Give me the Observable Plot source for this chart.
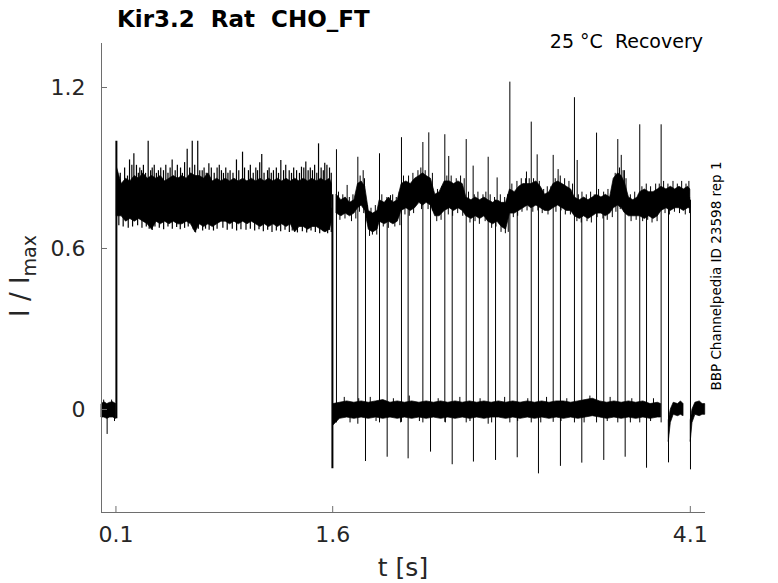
<!DOCTYPE html>
<html>
<head>
<meta charset="utf-8">
<script src="https://cdn.jsdelivr.net/npm/d3@7"></script>
<script src="https://cdn.jsdelivr.net/npm/@observablehq/plot@0.6"></script>
<style>
  html, body { margin: 0; padding: 0; background: #fff; }
</style>
</head>
<body>
<div id="chart"></div>
<script>
// ---- tick values / labels ----
const xTicks = [0.1, 1.6, 4.075];
const xTickLabels = ["0.1", "1.6", "4.1"];
const yTicks = [0, 0.6, 1.2];
const yTickLabels = ["0", "0.6", "1.2"];

// ---- noise bands: [t, low, high] ----
const preBand = [[0.002,-0.03,0.02],[0.02,-0.03,0.027],[0.04,-0.035,0.02],[0.06,-0.03,0.025],[0.08,-0.03,0.027],[0.102,-0.035,0.02]];
const preDips = [[0.039,0,-0.093],[0.09,0,-0.045],[0.015,0,0.035],[0.07,0,0.035]];

const firstBand = [
 [0.108,0.72,0.90],[0.14,0.72,0.84],[0.17,0.70,0.86],[0.20,0.71,0.85],[0.23,0.70,0.87],[0.26,0.71,0.86],
 [0.29,0.70,0.88],[0.32,0.69,0.86],[0.35,0.67,0.87],[0.38,0.70,0.86],[0.41,0.69,0.87],[0.44,0.70,0.85],
 [0.47,0.69,0.86],[0.50,0.70,0.87],[0.53,0.69,0.86],[0.56,0.69,0.87],[0.59,0.70,0.86],[0.62,0.69,0.88],
 [0.65,0.66,0.87],[0.68,0.69,0.87],[0.71,0.68,0.86],[0.74,0.69,0.88],[0.77,0.68,0.85],[0.80,0.69,0.86],
 [0.83,0.70,0.85],[0.86,0.70,0.86],[0.89,0.69,0.85],[0.92,0.70,0.86],[0.95,0.69,0.85],[0.98,0.70,0.86],
 [1.01,0.69,0.85],[1.04,0.70,0.86],[1.07,0.69,0.85],[1.10,0.68,0.86],[1.13,0.69,0.85],[1.16,0.68,0.86],
 [1.19,0.69,0.85],[1.22,0.68,0.86],[1.25,0.69,0.85],[1.28,0.68,0.86],[1.31,0.69,0.85],[1.34,0.66,0.86],
 [1.37,0.68,0.85],[1.40,0.68,0.86],[1.43,0.67,0.85],[1.46,0.68,0.86],[1.49,0.68,0.85],[1.52,0.67,0.86],
 [1.55,0.66,0.85],[1.58,0.67,0.86],[1.595,0.70,0.84]
];
const firstSpikes = [
 [0.194,0.93],[0.224,0.953],[0.242,0.91],[0.277,0.89],[0.323,1.0],[0.351,0.90],[0.394,0.89],[0.429,0.89],
 [0.489,0.93],[0.547,0.90],[0.593,0.97],[0.628,1.0],[0.666,1.0],[0.697,0.89],[0.743,0.916],[0.80,0.90],
 [0.844,0.88],[0.934,0.93],[0.976,0.959],[1.017,0.89],[1.068,0.90],[1.109,0.95],[1.149,0.89],[1.241,0.928],
 [1.299,0.89],[1.384,0.903],[1.414,0.922],[1.46,0.89],[1.502,0.99],[1.545,0.918],[1.578,0.90],
 [0.13,0.88],[0.16,0.90],[0.18,0.87],[0.21,0.91],[0.255,0.88],[0.265,0.90],[0.29,0.91],[0.305,0.88],
 [0.34,0.89],[0.365,0.91],[0.38,0.88],[0.41,0.90],[0.445,0.91],[0.46,0.88],[0.475,0.90],[0.51,0.89],
 [0.525,0.91],[0.56,0.88],[0.575,0.92],[0.61,0.90],[0.645,0.91],[0.68,0.89],[0.71,0.90],[0.725,0.88],
 [0.76,0.90],[0.78,0.88],[0.815,0.91],[0.83,0.89],[0.86,0.90],[0.875,0.88],[0.89,0.89],[0.91,0.88],
 [0.95,0.89],[0.99,0.90],[1.03,0.91],[1.05,0.88],[1.08,0.89],[1.095,0.92],[1.125,0.88],[1.16,0.90],
 [1.175,0.88],[1.19,0.89],[1.21,0.90],[1.225,0.88],[1.26,0.89],[1.275,0.91],[1.315,0.88],[1.33,0.90],
 [1.35,0.89],[1.37,0.88],[1.40,0.90],[1.43,0.89],[1.445,0.90],[1.475,0.91],[1.49,0.88],[1.52,0.90],
 [1.535,0.89],[1.56,0.91],[1.59,0.88]
];
const firstDips = [
 [0.351,0.667],[0.651,0.658],[0.72,0.672],[1.356,0.658],[1.576,0.667],
 [0.12,0.685],[0.15,0.68],[0.185,0.675],[0.215,0.68],[0.25,0.685],[0.28,0.675],[0.31,0.68],[0.33,0.672],
 [0.37,0.68],[0.40,0.675],[0.43,0.67],[0.46,0.68],[0.49,0.672],[0.52,0.678],[0.545,0.67],[0.575,0.675],
 [0.60,0.68],[0.635,0.67],[0.67,0.672],[0.70,0.665],[0.745,0.668],[0.775,0.665],[0.80,0.672],[0.84,0.675],
 [0.87,0.668],[0.905,0.672],[0.935,0.665],[0.965,0.67],[1.0,0.668],[1.03,0.672],[1.06,0.665],[1.09,0.67],
 [1.12,0.662],[1.15,0.668],[1.18,0.66],[1.21,0.665],[1.24,0.662],[1.27,0.668],[1.30,0.66],[1.32,0.665],
 [1.39,0.662],[1.42,0.658],[1.45,0.665],[1.48,0.66],[1.51,0.655],[1.535,0.662],[1.565,0.655],[1.59,0.66]
];

const upperBand = [
 [1.628,0.73,0.80],[1.66,0.72,0.78],[1.69,0.73,0.79],[1.72,0.72,0.77],[1.75,0.73,0.78],[1.775,0.75,0.84],
 [1.80,0.76,0.85],[1.825,0.74,0.83],[1.85,0.67,0.74],[1.88,0.66,0.73],[1.91,0.67,0.74],[1.925,0.70,0.78],
 [1.96,0.69,0.77],[1.99,0.70,0.79],[2.02,0.69,0.77],[2.05,0.70,0.78],[2.077,0.74,0.84],[2.11,0.75,0.85],
 [2.14,0.74,0.84],[2.17,0.75,0.86],[2.20,0.77,0.87],[2.225,0.76,0.88],[2.25,0.77,0.87],[2.28,0.76,0.86],
 [2.31,0.72,0.80],[2.34,0.72,0.81],[2.375,0.74,0.85],[2.41,0.75,0.85],[2.44,0.74,0.84],[2.47,0.75,0.85],
 [2.50,0.74,0.84],[2.525,0.72,0.79],[2.56,0.71,0.78],[2.59,0.72,0.79],[2.62,0.71,0.78],[2.65,0.72,0.79],
 [2.677,0.70,0.78],[2.71,0.69,0.77],[2.74,0.70,0.78],[2.77,0.68,0.77],[2.80,0.67,0.77],[2.827,0.73,0.82],
 [2.86,0.73,0.81],[2.89,0.74,0.83],[2.92,0.75,0.84],[2.95,0.76,0.84],[2.975,0.75,0.84],[3.01,0.76,0.85],
 [3.04,0.75,0.83],[3.07,0.74,0.80],[3.10,0.74,0.81],[3.127,0.75,0.84],[3.16,0.76,0.85],[3.19,0.75,0.84],
 [3.22,0.74,0.83],[3.25,0.74,0.82],[3.275,0.72,0.79],[3.31,0.71,0.78],[3.34,0.72,0.79],[3.37,0.71,0.78],
 [3.40,0.72,0.79],[3.427,0.73,0.80],[3.46,0.73,0.79],[3.49,0.72,0.80],[3.52,0.73,0.79],[3.545,0.75,0.86],
 [3.575,0.76,0.88],[3.60,0.75,0.87],[3.625,0.73,0.84],[3.65,0.72,0.79],[3.68,0.72,0.78],[3.71,0.72,0.79],
 [3.727,0.72,0.81],[3.76,0.71,0.82],[3.79,0.72,0.81],[3.82,0.71,0.81],[3.85,0.72,0.82],[3.875,0.74,0.83],
 [3.91,0.75,0.82],[3.94,0.74,0.83],[3.97,0.75,0.82],[4.00,0.75,0.83],[4.03,0.74,0.82],[4.06,0.75,0.83],
 [4.075,0.75,0.82]
];
const upperSpikes = [
 [1.70,0.835],[1.811,0.89],[2.0,0.797],[2.265,1.031],[2.403,0.943],[2.572,0.907],[2.738,0.863],
 [2.941,0.885],[3.015,0.949],[3.16,0.894],[3.292,0.928],[3.597,0.947],[3.619,0.89]
];
// short excursions on the upper trace: [t, from, to]
const upperTexture = [
 [1.64,0.75,0.81],[1.67,0.75,0.80],[1.715,0.75,0.79],[1.74,0.75,0.80],[1.65,0.75,0.705],[1.685,0.75,0.71],[1.73,0.75,0.70],[1.76,0.75,0.71],
 [1.79,0.8,0.87],[1.82,0.8,0.86],[1.785,0.8,0.735],[1.815,0.8,0.73],
 [1.84,0.7,0.76],[1.865,0.7,0.75],[1.895,0.7,0.76],[1.855,0.7,0.645],[1.875,0.7,0.65],[1.905,0.7,0.65],
 [1.94,0.73,0.80],[1.975,0.73,0.79],[2.015,0.73,0.80],[2.04,0.73,0.79],[2.06,0.73,0.81],[1.95,0.73,0.68],[1.985,0.73,0.675],[2.03,0.73,0.68],[2.065,0.73,0.685],
 [2.09,0.8,0.87],[2.125,0.8,0.87],[2.155,0.8,0.88],[2.19,0.8,0.89],[2.21,0.8,0.90],[2.24,0.8,0.89],[2.29,0.8,0.88],
 [2.10,0.8,0.725],[2.13,0.8,0.72],[2.16,0.8,0.73],[2.215,0.8,0.745],[2.26,0.8,0.745],[2.29,0.8,0.74],
 [2.325,0.76,0.82],[2.355,0.76,0.83],[2.32,0.76,0.70],[2.35,0.76,0.705],
 [2.39,0.8,0.87],[2.42,0.8,0.87],[2.455,0.8,0.86],[2.485,0.8,0.87],[2.51,0.8,0.86],[2.40,0.8,0.725],[2.43,0.8,0.72],[2.465,0.8,0.73],[2.50,0.8,0.72],
 [2.54,0.75,0.81],[2.58,0.75,0.80],[2.605,0.75,0.81],[2.64,0.75,0.80],[2.66,0.75,0.81],[2.55,0.75,0.695],[2.585,0.75,0.70],[2.615,0.75,0.69],[2.655,0.75,0.70],
 [2.69,0.73,0.80],[2.72,0.73,0.79],[2.76,0.73,0.80],[2.79,0.73,0.79],[2.81,0.73,0.80],[2.70,0.73,0.675],[2.73,0.73,0.68],[2.765,0.73,0.66],[2.795,0.73,0.655],[2.815,0.73,0.66],
 [2.84,0.79,0.84],[2.875,0.79,0.85],[2.905,0.79,0.86],[2.935,0.79,0.86],[2.96,0.79,0.86],[2.99,0.79,0.86],[3.03,0.79,0.85],[3.06,0.78,0.82],[3.085,0.78,0.83],[3.11,0.78,0.83],
 [2.85,0.79,0.715],[2.88,0.79,0.72],[2.91,0.79,0.735],[2.945,0.79,0.74],[2.985,0.79,0.735],[3.02,0.79,0.74],[3.05,0.78,0.73],[3.09,0.78,0.725],
 [3.14,0.8,0.86],[3.175,0.8,0.87],[3.205,0.8,0.86],[3.235,0.8,0.85],[3.26,0.8,0.84],[3.145,0.8,0.735],[3.18,0.8,0.74],[3.21,0.8,0.725],[3.245,0.8,0.725],
 [3.30,0.75,0.80],[3.325,0.75,0.81],[3.355,0.75,0.80],[3.385,0.75,0.81],[3.41,0.75,0.80],[3.44,0.76,0.82],[3.475,0.76,0.81],[3.505,0.76,0.82],[3.53,0.76,0.81],
 [3.29,0.75,0.70],[3.32,0.75,0.695],[3.36,0.75,0.70],[3.39,0.75,0.695],[3.43,0.76,0.715],[3.47,0.76,0.71],[3.50,0.76,0.705],[3.535,0.76,0.715],
 [3.555,0.8,0.88],[3.585,0.8,0.90],[3.61,0.8,0.89],[3.63,0.8,0.86],[3.56,0.8,0.735],[3.59,0.8,0.745],[3.615,0.8,0.735],
 [3.66,0.75,0.80],[3.69,0.75,0.81],[3.715,0.75,0.80],[3.665,0.75,0.70],[3.70,0.75,0.705],
 [3.74,0.77,0.83],[3.77,0.77,0.84],[3.80,0.77,0.83],[3.835,0.77,0.84],[3.86,0.77,0.84],[3.745,0.77,0.70],[3.78,0.77,0.705],[3.81,0.77,0.695],[3.845,0.77,0.70],
 [3.89,0.79,0.85],[3.92,0.79,0.84],[3.955,0.79,0.85],[3.985,0.79,0.84],[4.015,0.79,0.85],[4.045,0.79,0.84],[4.065,0.79,0.85],
 [3.90,0.79,0.73],[3.93,0.79,0.725],[3.965,0.79,0.735],[4.00,0.79,0.73],[4.04,0.79,0.725],[4.07,0.79,0.73]
];

const lowerBand = [
 [1.605,-0.06,0.02],[1.65,-0.035,0.025],[1.70,-0.03,0.03],[1.75,-0.035,0.025],[1.80,-0.03,0.03],
 [1.85,-0.035,0.025],[1.90,-0.03,0.03],[1.95,-0.035,0.035],[2.00,-0.03,0.025],[2.05,-0.035,0.03],
 [2.10,-0.03,0.025],[2.15,-0.035,0.03],[2.20,-0.03,0.025],[2.25,-0.035,0.03],[2.30,-0.03,0.025],
 [2.35,-0.035,0.03],[2.40,-0.03,0.025],[2.45,-0.035,0.03],[2.50,-0.03,0.025],[2.55,-0.035,0.03],
 [2.60,-0.03,0.025],[2.65,-0.035,0.03],[2.70,-0.03,0.025],[2.75,-0.03,0.03],[2.80,-0.035,0.025],
 [2.85,-0.03,0.03],[2.90,-0.035,0.025],[2.95,-0.03,0.03],[3.00,-0.035,0.025],[3.05,-0.03,0.03],
 [3.10,-0.035,0.025],[3.15,-0.03,0.03],[3.20,-0.035,0.03],[3.25,-0.03,0.025],[3.30,-0.035,0.03],
 [3.35,-0.03,0.035],[3.40,-0.025,0.04],[3.45,-0.03,0.03],[3.50,-0.035,0.025],[3.55,-0.03,0.03],
 [3.60,-0.035,0.025],[3.65,-0.03,0.03],[3.70,-0.035,0.025],[3.75,-0.03,0.03],[3.80,-0.035,0.02],
 [3.85,-0.03,0.025],[3.873,-0.03,0.02]
];
const lowerTexture = [
 [1.68,0,0.045],[1.78,0,0.04],[1.86,0,0.045],[2.02,0,0.04],[2.13,0,0.05],[2.33,0,0.04],[2.48,0,0.045],[2.62,0,0.04],
 [2.79,0,0.045],[2.95,0,0.04],[3.08,0,0.045],[3.22,0,0.04],[3.38,0,0.05],[3.52,0,0.045],[3.67,0,0.04],[3.82,0,0.04],
 [1.72,0,-0.05],[1.9,0,-0.045],[2.07,0,-0.05],[2.2,0,-0.045],[2.38,0,-0.05],[2.55,0,-0.045],[2.7,0,-0.05],
 [2.88,0,-0.045],[3.04,0,-0.05],[3.18,0,-0.045],[3.34,0,-0.05],[3.5,0,-0.045],[3.66,0,-0.05],[3.8,0,-0.045]
];
const tailBandA = [[3.926,-0.12,-0.04],[3.94,-0.05,0.0],[3.96,-0.02,0.025],[3.99,-0.025,0.02],[4.01,-0.02,0.03],[4.028,-0.025,0.02]];
const tailBandB = [[4.078,-0.12,-0.04],[4.09,-0.05,0.0],[4.11,-0.02,0.025],[4.14,-0.025,0.03],[4.16,-0.02,0.02],[4.178,-0.02,0.02]];

// ---- step transitions ----
const firstOnset = [[0.103, -0.035, 1.0]];
const firstOffset = [[1.598, 0.80, -0.221]];
const onsetTimes = [1.626,1.774,1.924,2.076,2.224,2.376,2.524,2.676,2.826,2.974,3.126,3.273,3.426,3.573,3.725,3.873];
const onsetPeaks = [0.968,0.94,0.953,1.013,0.995,1.024,1.006,0.94,1.22,1.071,0.947,1.162,1.03,1.006,1.061,1.061];
const onsetLows  = [-0.05,-0.055,-0.05,-0.048,-0.05,-0.048,-0.05,-0.055,-0.05,-0.05,-0.048,-0.05,-0.05,-0.05,-0.05,-0.05];
const offsetTimes = [1.827,1.977,2.122,2.277,2.427,2.574,2.727,2.877,3.024,3.176,3.324,3.476,3.624,3.772,3.924,4.076];
const offsetTroughs = [-0.194,-0.178,-0.184,-0.159,-0.206,-0.196,-0.19,-0.18,-0.24,-0.212,-0.2,-0.19,-0.178,-0.219,-0.199,-0.225];
const offsetFrom = 0.78;

// ---- tables ----
const band = arr => arr.map(([t, lo, hi]) => ({t, lo, hi}));
const onsets = onsetTimes.map((t, i) => ({t, lo: onsetLows[i], hi: onsetPeaks[i]}));
const offsets = offsetTimes.map((t, i) => ({t, lo: offsetTroughs[i], hi: offsetFrom}));

const areaOpts = {x: "t", y1: "lo", y2: "hi", fill: "black", stroke: "black", strokeWidth: 0.7, curve: "linear"};
const rule3 = {x: d => d[0], y1: d => d[1], y2: d => d[2], stroke: "black"};
const axisGray = "#6e6e6e";

const chart = Plot.plot({
  width: 778,
  height: 583,
  marginLeft: 101,
  marginRight: 73,
  marginTop: 43,
  marginBottom: 71,
  style: {fontFamily: "DejaVu Sans", background: "white", overflow: "visible"},
  x: {domain: [0, 4.18]},
  y: {domain: [-0.384, 1.364]},
  marks: [
    Plot.areaY(band(preBand), areaOpts),
    Plot.areaY(band(firstBand), areaOpts),
    Plot.areaY(band(upperBand), areaOpts),
    Plot.areaY(band(lowerBand), areaOpts),
    Plot.areaY(band(tailBandA), areaOpts),
    Plot.areaY(band(tailBandB), areaOpts),
    Plot.ruleX(preDips, {...rule3, strokeWidth: 1}),
    Plot.ruleX(firstSpikes, {x: d => d[0], y1: 0.8, y2: d => d[1], stroke: "black", strokeWidth: 1.2}),
    Plot.ruleX(firstDips, {x: d => d[0], y1: 0.75, y2: d => d[1], stroke: "black", strokeWidth: 1.2}),
    Plot.ruleX(upperSpikes, {x: d => d[0], y1: 0.78, y2: d => d[1], stroke: "black", strokeWidth: 1}),
    Plot.ruleX(upperTexture, {...rule3, strokeWidth: 1}),
    Plot.ruleX(lowerTexture, {...rule3, strokeWidth: 1}),
    Plot.ruleX(onsets, {x: "t", y1: "lo", y2: "hi", stroke: "black", strokeWidth: 1}),
    Plot.ruleX(offsets, {x: "t", y1: "hi", y2: "lo", stroke: "black", strokeWidth: 1}),
    Plot.ruleX(firstOnset, {...rule3, strokeWidth: 2}),
    Plot.ruleX(firstOffset, {...rule3, strokeWidth: 2}),
    // spines
    Plot.ruleX([0], {stroke: axisGray, strokeWidth: 1}),
    Plot.ruleY([-0.384], {stroke: axisGray, strokeWidth: 1}),
    // inward ticks
    Plot.ruleX(xTicks, {stroke: axisGray, insetTop: 463}),
    Plot.ruleY(yTicks, {stroke: axisGray, insetRight: 598}),
    Plot.axisX({ticks: xTicks, tickFormat: d => xTickLabels[xTicks.indexOf(d)], tickSize: 0, tickPadding: 14, fontSize: 22, fill: "#262626", label: null}),
    Plot.axisY({ticks: yTicks, tickFormat: d => yTickLabels[yTicks.indexOf(d)], tickSize: 0, tickPadding: 16, fontSize: 22, fill: "#262626", label: null})
  ]
});

document.getElementById("chart").appendChild(chart);

const svg = d3.select(chart);
const font = "DejaVu Sans";

svg.append("text")
  .attr("x", 117).attr("y", 27)
  .attr("text-anchor", "start")
  .attr("font-family", font).attr("font-size", 23).attr("font-weight", "bold")
  .attr("fill", "#000").style("white-space", "pre")
  .text("Kir3.2  Rat  CHO_FT");

svg.append("text")
  .attr("x", 703).attr("y", 48)
  .attr("text-anchor", "end")
  .attr("font-family", font).attr("font-size", 19)
  .attr("fill", "#000").style("white-space", "pre")
  .text("25 °C  Recovery");

svg.append("text")
  .attr("x", 403).attr("y", 576)
  .attr("text-anchor", "middle")
  .attr("font-family", font).attr("font-size", 25)
  .attr("fill", "#262626")
  .text("t [s]");

const yl = svg.append("text")
  .attr("transform", "translate(29,276) rotate(-90)")
  .attr("text-anchor", "middle")
  .attr("font-family", font).attr("font-size", 26)
  .attr("fill", "#262626").style("white-space", "pre");
yl.append("tspan").text("I / I");
yl.append("tspan").attr("dy", 7).attr("font-size", 19).text("max");

svg.append("text")
  .attr("transform", "translate(721,276) rotate(-90)")
  .attr("text-anchor", "middle")
  .attr("font-family", font).attr("font-size", 13.5)
  .attr("fill", "#000")
  .text("BBP Channelpedia ID 23598 rep 1");
</script>
</body>
</html>
